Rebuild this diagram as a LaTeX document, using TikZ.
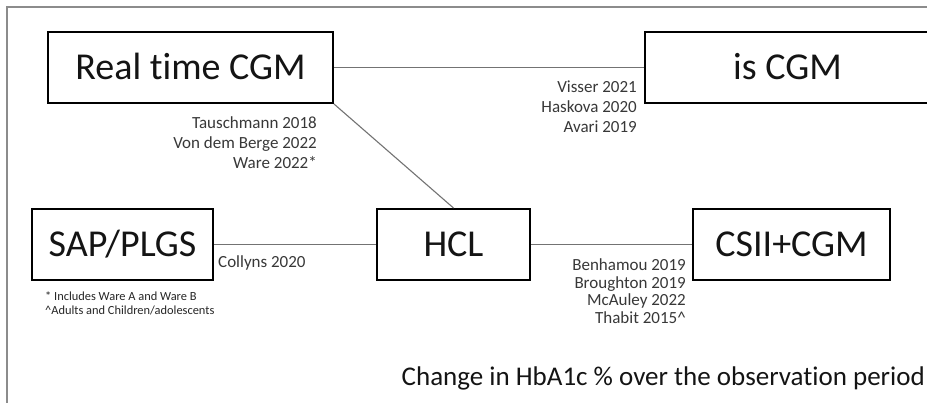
\documentclass[tikz,border=0pt]{standalone}
\usepackage{fontspec}
\setmainfont{Carlito}[Ligatures={NoCommon}]
\begin{document}
\begin{tikzpicture}[x=1pt,y=-1pt,
  bigbox/.style={draw=black, line width=2pt, minimum height=71pt, inner sep=0pt,
    font=\fontsize{38}{46}\selectfont, text height=24.5pt, text depth=0pt, text=black!92},
  link/.style={draw=black!55, line width=1.1pt},
  frameline/.style={draw=black!45, line width=1.5pt},
  ref/.style={font=\fontsize{17}{20}\selectfont, text=black!78, inner sep=0pt},
  note/.style={font=\fontsize{12.4}{14}\selectfont, text=black!85, inner sep=0pt},
  caption/.style={font=\fontsize{27}{32}\selectfont, text=black!92, inner sep=0pt}]
\clip (0,0) rectangle (927,403);
\fill[white] (0,0) rectangle (927,403);
% frame
\coordinate (fa) at (7,403);
\coordinate (fb) at (7,7);
\coordinate (fc) at (927,7);
\draw[frameline] (fa) -- (fb) -- (fc);
% boxes
\node[bigbox, minimum width=285pt] (rt) at (190.5,67.5) {Real time CGM};
\node[bigbox, minimum width=285pt] (is) at (787.5,67.5) {is CGM};
\node[bigbox, minimum width=181pt] (sap) at (122.5,244.5) {SAP/PLGS};
\node[bigbox, minimum width=153pt] (hcl) at (453.5,244.5) {HCL};
\node[bigbox, minimum width=197pt] (csii) at (791.5,244.5) {CSII+CGM};
% connectors
\draw[link] (rt.east) -- (is.west);
\draw[link] (rt.south east) -- (hcl.north);
\draw[link] (sap.east) -- (hcl.west);
\draw[link] (hcl.east) -- (csii.west);
% reference labels
\node[ref, anchor=base east] (v1) at (637,93) {Visser 2021};
\node[ref, anchor=base east] (v2) at (637,113) {Haskova 2020};
\node[ref, anchor=base east] (v3) at (637,133) {Avari 2019};
\node[ref, anchor=base east] (t1) at (317,129) {Tauschmann 2018};
\node[ref, anchor=base east] (t2) at (317,149) {Von dem Berge 2022};
\node[ref, anchor=base east] (t3) at (317,169) {Ware 2022*};
\node[ref, anchor=base west] (c1) at (218,268) {Collyns 2020};
\node[ref, anchor=base east] (b1) at (686,271) {Benhamou 2019};
\node[ref, anchor=base east] (b2) at (686,288.5) {Broughton 2019};
\node[ref, anchor=base east] (b3) at (686,306) {McAuley 2022};
\node[ref, anchor=base east] (b4) at (686,323.5) {Thabit 2015\textasciicircum};
% footnotes
\node[note, anchor=base west] (n1) at (45,301) {* Includes Ware A and Ware B};
\node[note, anchor=base west] (n2) at (45,315) {\textasciicircum Adults and Children/adolescents};
% caption
\node[caption, anchor=base east] (cap) at (925,385) {Change in HbA1c \% over the observation period};
\end{tikzpicture}
\end{document}
